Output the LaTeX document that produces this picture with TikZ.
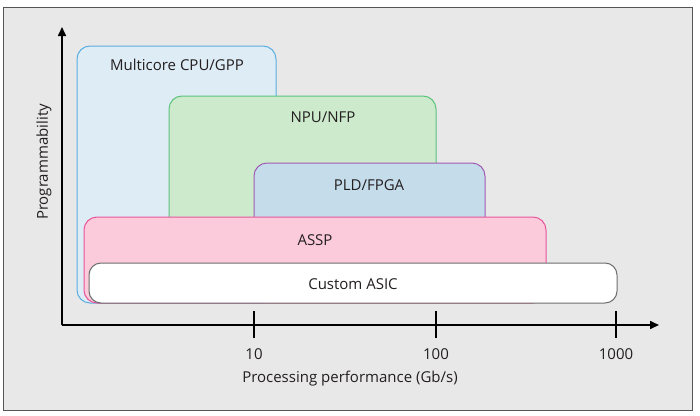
\documentclass[tikz,border=0pt]{standalone}
\usepackage{fontspec}
\setmainfont{Open Sans}
\usetikzlibrary{arrows.meta}
\definecolor{bgc}{HTML}{E8E8E8}
\definecolor{framec}{HTML}{555555}
\definecolor{cpuf}{HTML}{DEECF5}
\definecolor{cpud}{HTML}{5AAEE0}
\definecolor{npuf}{HTML}{CDEACD}
\definecolor{npud}{HTML}{5CC27C}
\definecolor{pldf}{HTML}{C5DCEB}
\definecolor{pldd}{HTML}{A05CB4}
\definecolor{asspf}{HTML}{FBCADB}
\definecolor{asspd}{HTML}{E8559A}
\definecolor{asicd}{HTML}{6E6E6E}
\definecolor{txt}{HTML}{231F20}
\tikzset{
  box/.style={line width=1pt, rounded corners=13pt},
  lbl/.style={font=\fontsize{15}{17}\selectfont, text=txt, inner sep=0pt},
  axis/.style={line width=1.6pt, -{Triangle[length=9pt,width=8pt]}},
  tick/.style={line width=1.6pt},
}
\begin{document}
\begin{tikzpicture}[x=1pt,y=-1pt]
\useasboundingbox (0,0) rectangle (700,415);
\fill[white] (0,0) rectangle (700,415);
\draw[fill=bgc, draw=framec, line width=0.9pt] (3,7) rectangle (692,410);
% boxes
\draw[box, fill=cpuf, draw=cpud] (77,303) -- (77,46) -- (276,46) -- (276,303) -- cycle;
\draw[box, fill=npuf, draw=npud] (169,260) -- (169,96) -- (436,96) -- (436,260);
\draw[box, fill=pldf, draw=pldd] (254,260) -- (254,163) -- (485,163) -- (485,260);
\draw[box, fill=asspf, draw=asspd] (84,303) -- (84,217) -- (546,217) -- (546,303) -- cycle;
\draw[box, fill=white, draw=asicd, rounded corners=12pt] (89,263) rectangle (617,303);
% labels
\node[lbl] (cpu) at (177,65) {Multicore CPU/GPP};
\node[lbl] (npu) at (323,117) {NPU/NFP};
\node[lbl] (pld) at (369,185) {PLD/FPGA};
\node[lbl] (assp) at (315,240) {ASSP};
\node[lbl] (asic) at (353,284) {Custom ASIC};
% axes
\coordinate (o) at (62,325);
\coordinate (ytop) at (62,27);
\coordinate (xend) at (659,325);
\draw[axis] (o) -- (ytop);
\draw[axis] (o) -- (xend);
\coordinate (t1a) at (254,311); \coordinate (t1b) at (254,338);
\coordinate (t2a) at (436,311); \coordinate (t2b) at (436,338);
\coordinate (t3a) at (616,311); \coordinate (t3b) at (616,338);
\draw[tick] (t1a) -- (t1b);
\draw[tick] (t2a) -- (t2b);
\draw[tick] (t3a) -- (t3b);
\node[lbl] (l10) at (254,354) {10};
\node[lbl] (l100) at (436,354) {100};
\node[lbl] (l1000) at (616,354) {1000};
\node[lbl] (xt) at (350,379) {Processing performance (Gb/s)};
\node[lbl, rotate=90] (yt) at (44,162) {Programmability};
\end{tikzpicture}
\end{document}
